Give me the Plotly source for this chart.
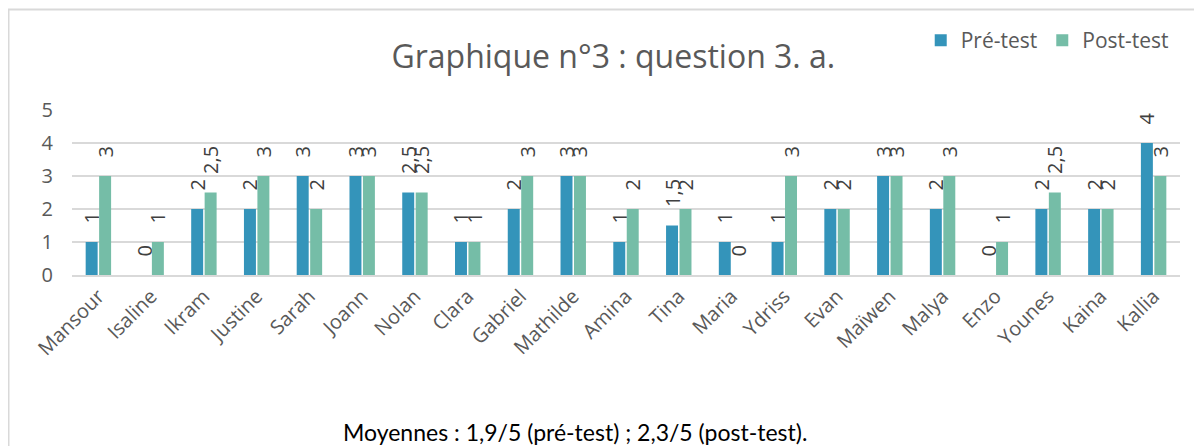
import plotly.graph_objects as go

# ── Data ──────────────────────────────────────────────────────────────────────
students = [
    "Mansour", "Isaline", "Ikram", "Justine", "Sarah", "Joann", "Nolan",
    "Clara", "Gabriel", "Mathilde", "Amina", "Tina", "Maria", "Ydriss",
    "Evan", "Maïwen", "Malya", "Enzo", "Younes", "Kaina", "Kallia",
]
pre_test = [1, 0, 2, 2, 3, 3, 2.5, 1, 2, 3, 1, 1.5, 1, 1, 2, 3, 2, 0, 2, 2, 4]
post_test = [3, 1, 2.5, 3, 2, 3, 2.5, 1, 3, 3, 2, 2, 0, 3, 2, 3, 3, 1, 2.5, 2, 3]
y_ticks = [0, 1, 2, 3, 4, 5]

_FONT = "'Open Sans', 'Noto Sans', sans-serif"
_GREY = "#595959"
_GRID = "#d9d9d9"


def _fr(v):
    """French number format, padded so the rotated label sits above the bar."""
    s = f"{v:g}".replace(".", ",")
    return "\u00a0\u00a0\u00a0" + s


fig = go.Figure()
for name, vals, color in [
    ("Pré-test", pre_test, "#3494BA"),
    ("Post-test", post_test, "#75BDA7"),
]:
    fig.add_trace(go.Bar(
        x=students,
        y=vals,
        name=name,
        marker=dict(color=color, line=dict(width=0)),
        text=[_fr(v) for v in vals],
        textposition="outside",
        textangle=-90,
        constraintext="none",
        cliponaxis=False,
        textfont=dict(size=20, color="#404040", family=_FONT),
    ))

# page has an 8px body margin, so the figure is drawn slightly smaller
fig.update_layout(
    width=1194,
    height=438,
    paper_bgcolor="white",
    plot_bgcolor="white",
    barmode="group",
    bargap=0.49,
    bargroupgap=0.11,
    font=dict(family=_FONT, color=_GREY),
    margin=dict(l=64, r=22, t=102, b=171),
    title=dict(
        text="Graphique n°3 : question 3. a.",
        x=0.507, xanchor="center", y=0.888, yanchor="middle",
        font=dict(size=32, color=_GREY, family=_FONT),
    ),
    legend=dict(
        orientation="h",
        x=0.766, xanchor="left", y=1.545, yanchor="top",
        font=dict(size=21, color=_GREY),
        itemwidth=30,
        traceorder="normal",
    ),
    xaxis=dict(
        tickangle=-45,
        tickfont=dict(size=20, color=_GREY),
        showgrid=False,
        showline=True,
        linecolor=_GRID,
        linewidth=1.5,
        ticks="",
    ),
    yaxis=dict(
        range=[0, 5],
        tickvals=y_ticks,
        tickfont=dict(size=20, color=_GREY),
        gridcolor=_GRID,
        gridwidth=1.5,
        zeroline=False,
        ticklabelstandoff=18,
    ),
    shapes=[dict(
        type="rect", xref="paper", yref="paper",
        x0=-0.0573, x1=1.05, y0=-1.3, y1=1.609,
        line=dict(color=_GRID, width=2),
        fillcolor="rgba(0,0,0,0)",
        layer="below",
    )],
    annotations=[dict(
        text="Moyennes : 1,9/5 (pré-test) ; 2,3/5 (post-test).",
        xref="paper", yref="paper",
        x=0.454, y=-0.952, xanchor="center", yanchor="middle",
        showarrow=False,
        font=dict(size=23, color="#000000", family="Lato, 'Noto Sans', sans-serif"),
    )],
)

fig.write_html("out.html")
